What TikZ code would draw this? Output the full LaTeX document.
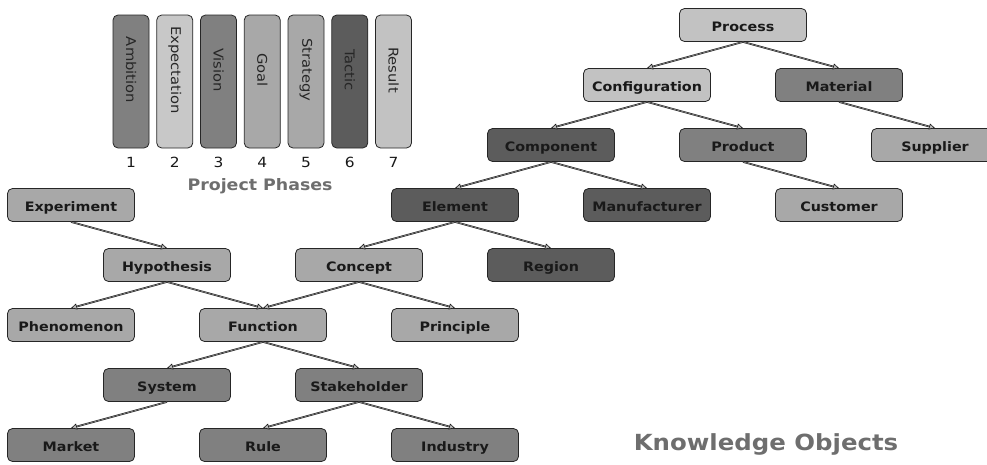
\documentclass[tikz,border=0pt]{standalone}
\usepackage{fontspec}
\setmainfont{DejaVu Sans}[FakeStretch=1.1]
\usetikzlibrary{arrows.meta}
\definecolor{gA}{HTML}{C2C2C2}
\definecolor{gB}{HTML}{A8A8A8}
\definecolor{gC}{HTML}{808080}
\definecolor{gD}{HTML}{5C5C5C}
\definecolor{titlegray}{HTML}{6E6E6E}
\begin{document}
\begin{tikzpicture}[x=1pt,y=-1pt,
  kbox/.style={draw=black!85, rounded corners=5pt, minimum width=127pt, minimum height=33pt,
    inner sep=0pt, text height=12pt, text depth=0pt,
    font=\fontsize{13}{15}\selectfont\bfseries, text=black!90, line width=0.8pt},
  pbar/.style={draw=black!85, rounded corners=5pt, minimum width=36pt, minimum height=133pt,
    inner sep=0pt, line width=0.8pt},
  ptext/.style={rotate=-90, font=\fontsize{13.4}{15}\selectfont, text=black!85},
  pnum/.style={font=\fontsize{14}{16}\selectfont, text=black!90},
  title/.style={font=\fontsize{15.8}{18}\selectfont\bfseries, text=titlegray},
  edge/.style={draw=black!90, line width=0.6pt, double=gray!75, double distance=0.5pt,
    -{Triangle[length=6pt,width=6pt,fill=gray!55]}}]
\useasboundingbox (0,0) rectangle (987,464);
\clip (0,0) rectangle (987,464);

% project phases
\node[pbar, fill=gC] (b1) at (131,81.5) {};
\node[pbar, fill=gA!90!white] (b2) at (174.75,81.5) {};
\node[pbar, fill=gC] (b3) at (218.5,81.5) {};
\node[pbar, fill=gB] (b4) at (262.25,81.5) {};
\node[pbar, fill=gB] (b5) at (306,81.5) {};
\node[pbar, fill=gD] (b6) at (349.75,81.5) {};
\node[pbar, fill=gA] (b7) at (393.5,81.5) {};
\node[ptext] (t1) at (131,70) {Ambition};
\node[ptext] (t2) at (174.75,70) {Expectation};
\node[ptext] (t3) at (218.5,70) {Vision};
\node[ptext] (t4) at (262.25,70) {Goal};
\node[ptext] (t5) at (306,70) {Strategy};
\node[ptext] (t6) at (349.75,70) {Tactic};
\node[ptext] (t7) at (393.5,70) {Result};
\node[pnum] (n1) at (131,162) {1};
\node[pnum] (n2) at (174.75,162) {2};
\node[pnum] (n3) at (218.5,162) {3};
\node[pnum] (n4) at (262.25,162) {4};
\node[pnum] (n5) at (306,162) {5};
\node[pnum] (n6) at (349.75,162) {6};
\node[pnum] (n7) at (393.5,162) {7};
\node[title] (pp) at (260,186) {Project Phases};
\node[title, font=\fontsize{22.2}{24}\selectfont\bfseries, anchor=base] (ko) at (766,450) {Knowledge Objects};

% right tree
\node[kbox, fill=gA] (process) at (743,25) {Process};
\node[kbox, fill=gA] (config) at (647,85) {Configuration};
\node[kbox, fill=gC] (material) at (839,85) {Material};
\node[kbox, fill=gD] (component) at (551,145) {Component};
\node[kbox, fill=gC] (product) at (743,145) {Product};
\node[kbox, fill=gB] (supplier) at (935,145) {Supplier};
\node[kbox, fill=gD] (element) at (455,205) {Element};
\node[kbox, fill=gD] (manuf) at (647,205) {Manufacturer};
\node[kbox, fill=gB] (customer) at (839,205) {Customer};
\node[kbox, fill=gD] (region) at (551,265) {Region};

% left tree
\node[kbox, fill=gB] (experiment) at (71,205) {Experiment};
\node[kbox, fill=gB] (hypothesis) at (167,265) {Hypothesis};
\node[kbox, fill=gB] (concept) at (359,265) {Concept};
\node[kbox, fill=gB] (phenomenon) at (71,325) {Phenomenon};
\node[kbox, fill=gB] (function) at (263,325) {Function};
\node[kbox, fill=gB] (principle) at (455,325) {Principle};
\node[kbox, fill=gC] (system) at (167,385) {System};
\node[kbox, fill=gC] (stakeholder) at (359,385) {Stakeholder};
\node[kbox, fill=gC] (market) at (71,445) {Market};
\node[kbox, fill=gC] (rule) at (263,445) {Rule};
\node[kbox, fill=gC] (industry) at (455,445) {Industry};

% edges
\draw[edge] (process.south) -- (config.north);
\draw[edge] (process.south) -- (material.north);
\draw[edge] (config.south) -- (component.north);
\draw[edge] (config.south) -- (product.north);
\draw[edge] (material.south) -- (supplier.north);
\draw[edge] (component.south) -- (element.north);
\draw[edge] (component.south) -- (manuf.north);
\draw[edge] (product.south) -- (customer.north);
\draw[edge] (element.south) -- (concept.north);
\draw[edge] (element.south) -- (region.north);
\draw[edge] (experiment.south) -- (hypothesis.north);
\draw[edge] (hypothesis.south) -- (phenomenon.north);
\draw[edge] (hypothesis.south) -- (function.north);
\draw[edge] (concept.south) -- (function.north);
\draw[edge] (concept.south) -- (principle.north);
\draw[edge] (function.south) -- (system.north);
\draw[edge] (function.south) -- (stakeholder.north);
\draw[edge] (system.south) -- (market.north);
\draw[edge] (stakeholder.south) -- (rule.north);
\draw[edge] (stakeholder.south) -- (industry.north);
\end{tikzpicture}
\end{document}
